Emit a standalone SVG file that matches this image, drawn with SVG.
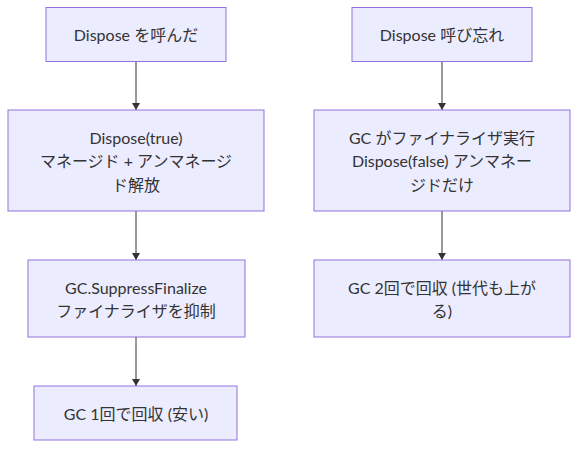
<svg xmlns="http://www.w3.org/2000/svg" width="586" height="454" viewBox="0 0 586 454">
<defs>
<marker id="arrow" viewBox="0 0 7 8" refX="7" refY="4" markerUnits="userSpaceOnUse" markerWidth="7" markerHeight="8" orient="auto">
<path d="M0,0 L7,4 L0,8 z" fill="#333333"/>
</marker>
<style>
.node rect{fill:#ECECFF;stroke:#9370DB;stroke-width:1}
.node text{font-family:"Lato","Noto Sans CJK JP",sans-serif;font-size:16px;fill:#333333;text-anchor:middle;dominant-baseline:central}
.edge{stroke:#333333;stroke-width:1;fill:none;marker-end:url(#arrow)}
</style>
</defs>
<rect width="586" height="454" fill="#ffffff"/>
<g id="connectors">
<path class="edge" d="M136,61.5 L136,110"/>
<path class="edge" d="M136,211 L136,260"/>
<path class="edge" d="M136,337 L136,386"/>
<path class="edge" d="M442,61.5 L442,110"/>
<path class="edge" d="M442,211 L442,260"/>
</g>
<g id="n1" class="node">
<rect x="46" y="7.5" width="180" height="54"/>
<text x="136" y="34.5">Dispose を呼んだ</text>
</g>
<g id="n2" class="node">
<rect x="8" y="110" width="256" height="101"/>
<text x="136" y="137">Dispose(true)</text>
<text x="136" y="160.5">マネージド + アンマネージ</text>
<text x="136" y="184">ド解放</text>
</g>
<g id="n3" class="node">
<rect x="28" y="260" width="217" height="77"/>
<text x="136" y="287">GC.SuppressFinalize</text>
<text x="136" y="310.5">ファイナライザを抑制</text>
</g>
<g id="n4" class="node">
<rect x="34" y="386" width="203" height="54"/>
<text x="136" y="413">GC 1回で回収 (安い)</text>
</g>
<g id="n5" class="node">
<rect x="352" y="7.5" width="180" height="54"/>
<text x="442" y="34.5">Dispose 呼び忘れ</text>
</g>
<g id="n6" class="node">
<rect x="314" y="110" width="256" height="101"/>
<text x="442" y="137">GC がファイナライザ実行</text>
<text x="442" y="160.5">Dispose(false) アンマネー</text>
<text x="442" y="184">ジドだけ</text>
</g>
<g id="n7" class="node">
<rect x="314" y="260" width="256" height="77"/>
<text x="442" y="287">GC 2回で回収 (世代も上が</text>
<text x="442" y="310.5">る)</text>
</g>
</svg>
